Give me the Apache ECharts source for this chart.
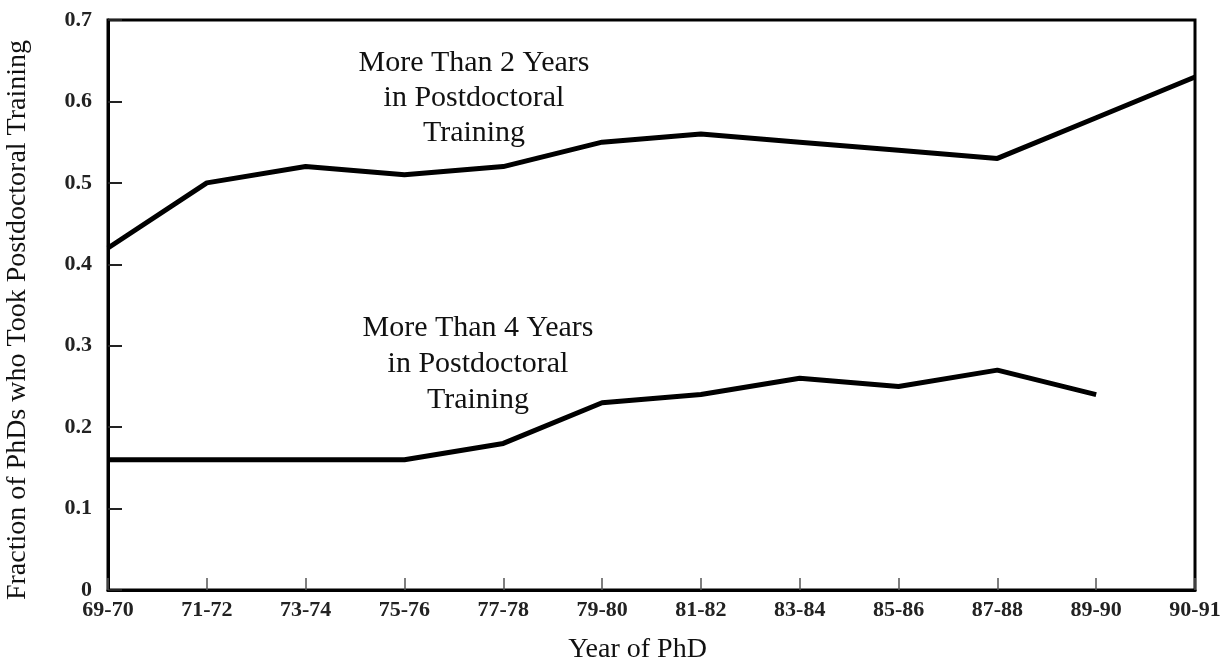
<!DOCTYPE html>
<html>
<head>
<meta charset="utf-8">
<script src="https://cdn.jsdelivr.net/npm/echarts@6/dist/echarts.min.js"></script>
<style>html,body{margin:0;padding:0;background:#fff;}#c{width:1220px;height:660px;}</style>
</head>
<body>
<div id="c"></div>
<script>
const categories = ['69-70','71-72','73-74','75-76','77-78','79-80','81-82','83-84','85-86','87-88','89-90','90-91'];
const moreThan2 = [0.42, 0.50, 0.52, 0.51, 0.52, 0.55, 0.56, 0.55, 0.54, 0.53, 0.58, 0.63];
const moreThan4 = [0.16, 0.16, 0.16, 0.16, 0.18, 0.23, 0.24, 0.26, 0.25, 0.27, 0.24, null];
const yTicks = [0, 0.1, 0.2, 0.3, 0.4, 0.5, 0.6, 0.7];
const label2 = 'More Than 2 Years\nin Postdoctoral\nTraining';
const label4 = 'More Than 4 Years\nin Postdoctoral\nTraining';

const FONT = '"Liberation Serif", "DejaVu Serif", serif';
const chart = echarts.init(document.getElementById('c'));
chart.setOption({
  animation: false,
  backgroundColor: '#fff',
  grid: { left: 108, right: 25, top: 20, bottom: 70, containLabel: false, outerBoundsMode: 'none',
    show: true, borderColor: '#000', borderWidth: 3, backgroundColor: 'transparent' },
  xAxis: {
    type: 'category',
    data: categories,
    boundaryGap: false,
    name: 'Year of PhD',
    nameLocation: 'middle',
    nameGap: 46,
    nameTextStyle: { fontFamily: FONT, fontSize: 28, color: '#111', padding: [0, 28, 0, 0] },
    axisLine: { lineStyle: { color: '#000', width: 3 } },
    axisTick: { inside: true, length: 12, alignWithLabel: true, lineStyle: { color: '#555', width: 1.5 } },
    axisLabel: { fontFamily: FONT, fontSize: 22, fontWeight: 'bold', color: '#222', margin: 9, interval: 0 },
    splitLine: { show: false }
  },
  yAxis: {
    type: 'value',
    min: yTicks[0],
    max: yTicks[yTicks.length - 1],
    interval: 0.1,
    name: 'Fraction of PhDs who Took Postdoctoral Training',
    nameLocation: 'middle',
    nameGap: 76,
    nameTextStyle: { fontFamily: FONT, fontSize: 28, color: '#111', padding: [0, 30, 0, 0] },
    axisLine: { show: true, lineStyle: { color: '#000', width: 3 } },
    axisTick: { show: true, inside: true, length: 14, lineStyle: { color: '#222', width: 2 } },
    axisLabel: { fontFamily: FONT, fontSize: 22, fontWeight: 'bold', color: '#222', margin: 16,
      formatter: v => (Math.round(v * 10) / 10).toString() },
    splitLine: { show: false }
  },
  series: [
    { type: 'line', data: moreThan2, symbol: 'none', lineStyle: { color: '#000', width: 5 }, z: 5 },
    { type: 'line', data: moreThan4, symbol: 'none', connectNulls: false, lineStyle: { color: '#000', width: 5 }, z: 5 }
  ],
  graphic: [
    { type: 'text', x: 474, y: 46, style: { text: label2, fontFamily: FONT, fontSize: 30, lineHeight: 35, fill: '#111', textAlign: 'center' } },
    { type: 'text', x: 478, y: 310, style: { text: label4, fontFamily: FONT, fontSize: 30, lineHeight: 36, fill: '#111', textAlign: 'center' } }
  ]
});
</script>
</body>
</html>
